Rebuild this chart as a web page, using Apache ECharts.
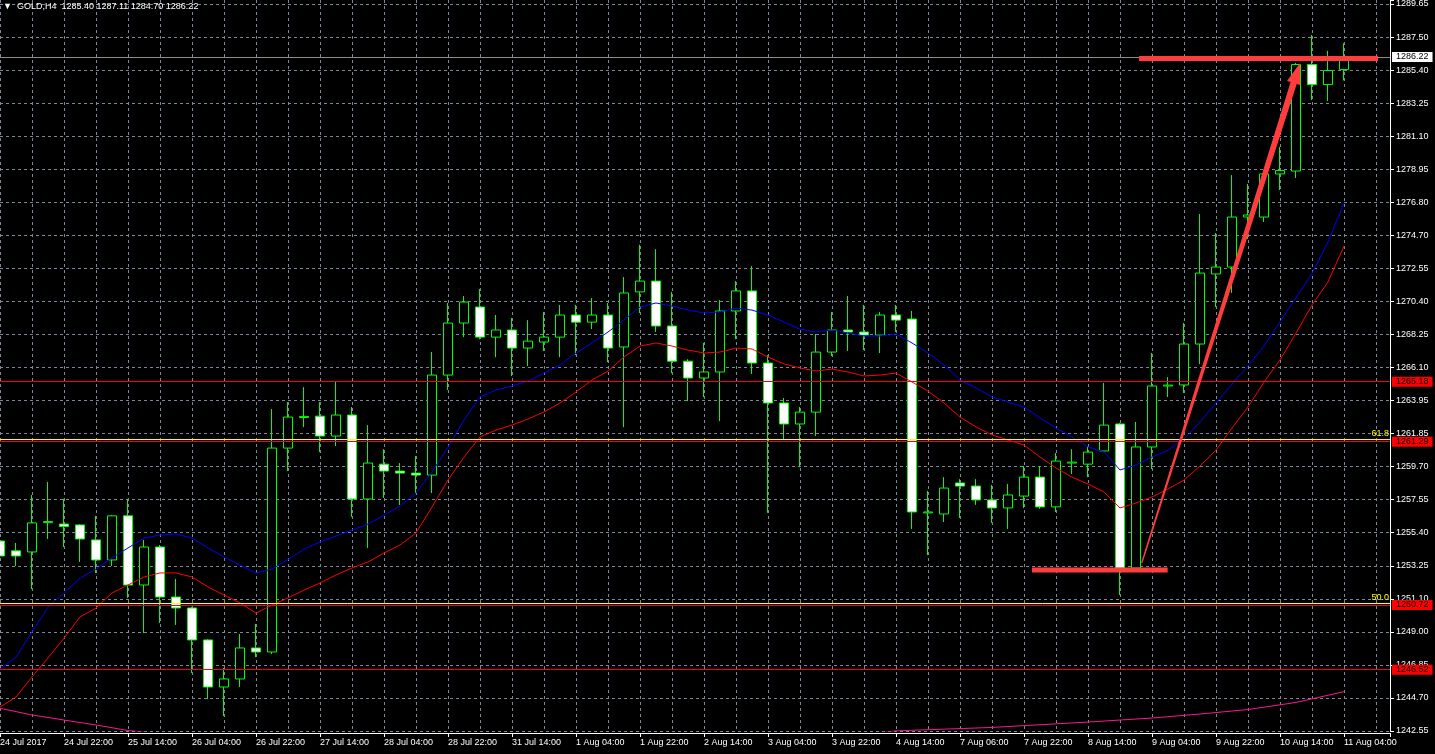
<!DOCTYPE html>
<html><head><meta charset="utf-8">
<script src="https://cdn.jsdelivr.net/npm/echarts@6/dist/echarts.min.js"></script>
<style>html,body{margin:0;padding:0;background:#000;}#c{width:1435px;height:754px;}</style>
</head><body><div id="c"></div>
<script>
const symbolName = 'GOLD';
const timeframe = 'H4';
const xTickLabels = ['24 Jul 2017','24 Jul 22:00','25 Jul 14:00','26 Jul 04:00','26 Jul 22:00','27 Jul 14:00','28 Jul 04:00','28 Jul 22:00','31 Jul 14:00','1 Aug 04:00','1 Aug 22:00','2 Aug 14:00','3 Aug 04:00','3 Aug 22:00','4 Aug 14:00','7 Aug 06:00','7 Aug 22:00','8 Aug 14:00','9 Aug 04:00','9 Aug 22:00','10 Aug 14:00','11 Aug 04:00'];
const yTickLabels = ['1242.55','1244.70','1246.85','1249.00','1251.10','1253.25','1255.40','1257.55','1259.70','1261.85','1263.95','1266.10','1268.25','1270.40','1272.55','1274.70','1276.80','1278.95','1281.10','1283.25','1285.40','1287.50','1289.65'];
// [open, close, low, high]
const ohlc = [
[1254.86,1253.89,1253.24,1257.07],[1254.22,1253.89,1253.24,1254.73],[1254.15,1256.03,1251.75,1257.84],[1256.05,1256.12,1254.99,1258.69],
[1255.96,1255.80,1254.47,1257.58],[1255.90,1254.99,1253.50,1255.95],[1254.93,1253.63,1252.79,1256.49],[1253.63,1256.49,1253.24,1256.55],
[1256.49,1252.01,1251.17,1257.58],[1252.01,1254.47,1248.90,1254.93],[1254.47,1251.23,1249.55,1254.60],[1251.23,1250.52,1249.42,1252.40],
[1250.52,1248.45,1246.31,1250.59],[1248.45,1245.40,1244.62,1248.50],[1245.40,1245.92,1243.52,1246.63],[1245.92,1247.93,1245.40,1248.84],
[1247.93,1247.67,1247.34,1249.49],[1247.67,1260.88,1247.54,1263.41],[1260.88,1262.89,1259.39,1263.86],[1262.86,1262.93,1262.24,1264.83],
[1262.95,1261.66,1260.62,1263.86],[1261.66,1263.02,1261.01,1265.16],[1263.02,1257.58,1256.42,1263.54],[1257.58,1259.91,1254.41,1262.37],
[1259.84,1259.39,1257.65,1260.81],[1259.39,1259.26,1257.20,1259.91],[1259.26,1259.13,1257.97,1260.36],[1259.13,1265.61,1257.97,1267.10],
[1265.61,1268.98,1264.64,1270.28],[1268.98,1270.34,1268.07,1270.73],[1270.02,1268.07,1267.94,1271.19],[1268.07,1268.53,1266.77,1269.50],
[1268.53,1267.36,1265.55,1269.30],[1267.36,1267.81,1266.19,1269.17],[1267.75,1268.07,1267.17,1269.69],[1268.07,1269.50,1266.77,1270.15],
[1269.50,1269.04,1266.90,1270.15],[1269.04,1269.50,1268.59,1270.60],[1269.50,1267.36,1266.45,1270.28],[1267.43,1270.93,1262.24,1271.96],
[1271.00,1271.70,1269.63,1274.04],[1271.70,1268.79,1268.40,1273.77],[1268.79,1266.51,1265.74,1271.00],[1266.51,1265.42,1263.92,1266.64],
[1265.42,1265.81,1264.19,1267.69],[1265.81,1269.76,1262.63,1270.47],[1269.76,1271.06,1267.94,1271.70],[1271.06,1266.39,1265.68,1272.67],
[1266.39,1263.80,1256.68,1266.90],[1263.80,1262.44,1261.47,1264.12],[1262.44,1263.21,1259.65,1263.54],[1263.21,1267.10,1261.66,1268.27],
[1267.10,1268.53,1266.84,1269.69],[1268.53,1268.40,1267.17,1270.73],[1268.40,1268.20,1267.23,1270.15],[1268.20,1269.50,1267.04,1269.69],
[1269.50,1269.17,1268.40,1270.15],[1269.24,1256.74,1255.64,1269.76],[1256.68,1256.74,1253.95,1258.10],[1256.61,1258.29,1256.09,1259.00],
[1258.62,1258.42,1256.35,1258.87],[1258.42,1257.52,1257.20,1258.87],[1257.52,1257.00,1256.03,1258.49],[1257.00,1257.84,1255.64,1258.55],
[1257.77,1259.00,1257.00,1259.72],[1259.00,1257.07,1256.94,1259.72],[1257.07,1260.04,1256.74,1260.56],[1259.91,1259.97,1259.20,1260.81],
[1259.84,1260.62,1259.00,1261.01],[1260.69,1262.37,1260.62,1265.10],[1262.44,1253.11,1251.36,1262.50],[1253.11,1260.95,1252.98,1262.57],
[1260.95,1264.90,1259.52,1267.04],[1264.90,1264.96,1264.19,1265.48],[1264.97,1267.62,1264.45,1268.98],[1267.62,1272.22,1266.32,1276.04],
[1272.16,1272.61,1270.02,1274.81],[1272.61,1275.85,1270.93,1278.57],[1275.85,1275.98,1274.43,1277.99],[1275.85,1278.64,1275.53,1278.70],
[1278.64,1278.86,1277.60,1280.39],[1278.83,1285.73,1278.38,1285.83],[1285.73,1284.43,1283.43,1287.64],[1284.43,1285.34,1283.37,1286.61],
[1285.40,1286.22,1284.70,1287.11]
];
const blueMA = [1246.57,1247.34,1248.96,1250.58,1251.49,1252.46,1253.04,1253.76,1254.41,1255.05,
1255.25,1255.31,1255.05,1254.41,1253.82,1253.30,1252.79,1253.04,1253.66,1254.34,
1254.79,1255.18,1255.57,1255.96,1256.54,1257.13,1257.97,1259.33,1260.95,1262.70,
1264.19,1264.64,1264.90,1265.23,1265.74,1266.26,1267.04,1267.69,1268.40,1269.18,
1270.02,1270.28,1270.08,1269.82,1269.63,1269.70,1269.95,1269.82,1269.50,1269.05,
1268.59,1268.40,1268.53,1268.33,1268.14,1268.14,1268.27,1267.69,1267.04,1266.26,
1265.29,1264.77,1264.19,1263.86,1263.54,1262.83,1262.18,1261.60,1260.95,1260.63,
1259.46,1259.78,1260.30,1260.75,1261.47,1262.57,1263.80,1265.03,1266.20,1267.49,
1269.07,1270.62,1272.20,1274.25,1276.74];
const redMA = [1244.10,1244.75,1246.05,1247.28,1248.57,1249.94,1250.52,1251.49,1252.01,1252.53,
1252.79,1252.79,1252.53,1251.88,1251.36,1250.84,1250.19,1250.71,1251.17,1251.68,
1252.14,1252.66,1253.11,1253.50,1254.08,1254.60,1255.38,1257.06,1258.81,1260.30,
1261.60,1262.05,1262.37,1262.76,1263.22,1263.80,1264.51,1265.29,1265.87,1266.78,
1267.49,1267.69,1267.49,1267.23,1267.04,1267.10,1267.36,1267.30,1266.78,1266.33,
1266.07,1265.87,1266.00,1265.81,1265.55,1265.61,1265.74,1265.16,1264.58,1263.80,
1262.89,1262.25,1261.73,1261.40,1261.08,1260.30,1259.59,1259.00,1258.55,1258.03,
1257.00,1257.32,1257.71,1258.23,1258.81,1259.72,1260.75,1262.18,1263.54,1265.16,
1266.59,1268.33,1270.15,1271.64,1273.97];
const pinkIdx = [0,2,4,6,8,10,16,26,36,46,52,55,56,62,68,72,75,78,81,84];
const pinkMA = [1244.02,1243.59,1243.26,1242.94,1242.58,1242.39,1242.0,1241.6,1241.4,1241.5,1242.0,1242.45,1242.56,1242.78,1243.13,1243.39,1243.65,1243.94,1244.40,1245.10];
const redLevels = [1265.18, 1261.29, 1250.72, 1246.52];
const fibNames = ['61.8', '50.0'];
const fibLevels = [1261.45, 1250.84];
const bidPrice = 1286.22;
const thickLines = [[71.19, 1286.12, 86.125, 1286.12], [64.5, 1252.98, 72.98, 1252.98]];
const arrowLine = [71.36, 1253.43, 81.25, 1285.83];

const FONT = "'Liberation Sans', Arial, sans-serif";
const Y_MIN = 1242.55, Y_MAX = 1289.91, Y_INT = 2.140909;
const X_MAX = 86.875;
const last = ohlc[ohlc.length - 1];
const header = '\u25BC  ' + symbolName + ',' + timeframe + '  ' + last[0].toFixed(2) + ' ' + last[3].toFixed(2) + ' ' + last[2].toFixed(2) + ' ' + last[1].toFixed(2);

const markData = [];
redLevels.forEach(v => markData.push({
  yAxis: v, lineStyle: {color: '#ff0000', width: 1, type: 'solid'},
  label: {show: true, position: 'end', distance: 2, formatter: v.toFixed(2), color: '#000', backgroundColor: '#ff0000', padding: [1, 4, 0, 4], fontSize: 9, fontFamily: FONT}
}));
fibLevels.forEach((v, i) => markData.push({
  yAxis: v, lineStyle: {color: '#ffff00', width: 1, type: 'solid'},
  label: {show: true, position: 'insideEndTop', distance: 1, formatter: fibNames[i], color: '#ffff00', fontSize: 9, fontFamily: FONT}
}));
markData.push({
  yAxis: bidPrice, lineStyle: {color: '#8c8c8c', width: 1, type: 'solid'},
  label: {show: true, position: 'end', distance: 2, formatter: bidPrice.toFixed(2), color: '#000', backgroundColor: '#ffffff', padding: [1, 4, 0, 4], fontSize: 9, fontFamily: FONT}
});

const series = [
  {type: 'candlestick', xAxisIndex: 0, yAxisIndex: 0, z: 2,
   data: ohlc.map((r, i) => [i, r[0], r[1], r[2], r[3]]),
   encode: {x: 0, y: [1, 2, 3, 4]}, barWidth: 9,
   itemStyle: {color: '#000000', color0: '#ffffff', borderColor: '#00ff00', borderColor0: '#00ff00', borderColorDoji: '#00ff00', borderWidth: 1},
   markLine: {silent: true, symbol: ['none', 'none'], animation: false, z: 5, data: markData}
  },
  {type: 'line', xAxisIndex: 0, yAxisIndex: 0, z: 3, data: blueMA.map((v, i) => [i, v]), showSymbol: false, symbol: 'none', lineStyle: {color: '#0000ff', width: 1}},
  {type: 'line', xAxisIndex: 0, yAxisIndex: 0, z: 3, data: redMA.map((v, i) => [i, v]), showSymbol: false, symbol: 'none', lineStyle: {color: '#ff0000', width: 1}},
  {type: 'line', xAxisIndex: 0, yAxisIndex: 0, z: 3, data: pinkIdx.map((x, i) => [x, pinkMA[i]]), showSymbol: false, symbol: 'none', lineStyle: {color: '#ff1493', width: 1}}
];
thickLines.forEach(s => series.push({
  type: 'line', xAxisIndex: 0, yAxisIndex: 0, z: 6, data: [[s[0], s[1]], [s[2], s[3]]], showSymbol: false, symbol: 'none',
  lineStyle: {color: '#ff3d3d', width: 5, cap: 'butt'}
}));
series.push({
  type: 'custom', xAxisIndex: 0, yAxisIndex: 0, z: 6, data: [arrowLine], encode: {x: [0, 2], y: [1, 3]},
  renderItem: function (params, api) {
    const s = api.coord([api.value(0), api.value(1)]);
    const t = api.coord([api.value(2), api.value(3)]);
    const dx = t[0] - s[0], dy = t[1] - s[1];
    const L = Math.hypot(dx, dy), ux = dx / L, uy = dy / L, nx = -uy, ny = ux;
    const headLen = 21, headHalf = 7, w0 = 0.7, w1 = 3.2;
    const b = [t[0] - ux * headLen, t[1] - uy * headLen];
    const pts = [
      [s[0] + nx * w0, s[1] + ny * w0], [b[0] + nx * w1, b[1] + ny * w1], [b[0] + nx * headHalf, b[1] + ny * headHalf],
      [t[0], t[1]], [b[0] - nx * headHalf, b[1] - ny * headHalf], [b[0] - nx * w1, b[1] - ny * w1], [s[0] - nx * w0, s[1] - ny * w0]
    ];
    return {type: 'polygon', shape: {points: pts}, style: {fill: '#ff3d3d', stroke: null}};
  }
});

const chart = echarts.init(document.getElementById('c'), null, {renderer: 'canvas'});
chart.setOption({
  backgroundColor: '#000000',
  animation: false,
  title: {text: header, left: 3, top: 2, padding: 0, textStyle: {color: '#ffffff', fontSize: 9, fontWeight: 'normal', fontFamily: FONT}},
  grid: {left: 0, right: 45, top: 0, bottom: 23, containLabel: false, outerBoundsMode: 'none'},
  xAxis: [
    {type: 'value', min: 0, max: X_MAX, interval: 2, position: 'bottom',
     axisLine: {show: false}, axisTick: {show: false}, axisLabel: {show: false},
     splitLine: {show: true, showMaxLine: false, lineStyle: {color: '#7a8899', width: 1, type: [3, 3]}}},
    {type: 'value', min: 0, max: X_MAX, interval: 4, position: 'bottom', offset: 2,
     axisLine: {show: true, onZero: false, lineStyle: {color: '#ffffff', width: 1}},
     axisTick: {show: true, inside: false, length: 4, lineStyle: {color: '#ffffff'}},
     splitLine: {show: false},
     axisLabel: {show: true, color: '#ffffff', fontSize: 9, fontFamily: FONT, align: 'left', margin: 5, hideOverlap: false,
       formatter: function (v) {
         const i = Math.round(v);
         if (Math.abs(v - i) > 1e-6 || i % 4 !== 0) return '';
         return xTickLabels[i / 4] || '';
       }}}
  ],
  yAxis: [{
    type: 'value', position: 'right', min: Y_MIN, max: Y_MAX, interval: Y_INT, scale: true,
    axisLine: {show: true, onZero: false, lineStyle: {color: '#ffffff', width: 1}},
    axisTick: {show: true, inside: false, length: 4, lineStyle: {color: '#ffffff'}},
    splitLine: {show: true, showMaxLine: false, lineStyle: {color: '#7a8899', width: 1, type: [3, 3]}},
    axisLabel: {show: true, color: '#ffffff', fontSize: 9, fontFamily: FONT, margin: 6, hideOverlap: false,
      formatter: function (v) {
        const k = Math.round((v - Y_MIN) / Y_INT);
        if (Math.abs(v - (Y_MIN + k * Y_INT)) > 0.01) return '';
        return yTickLabels[k] || '';
      }}
  }],
  series: series
});
</script>
</body></html>
